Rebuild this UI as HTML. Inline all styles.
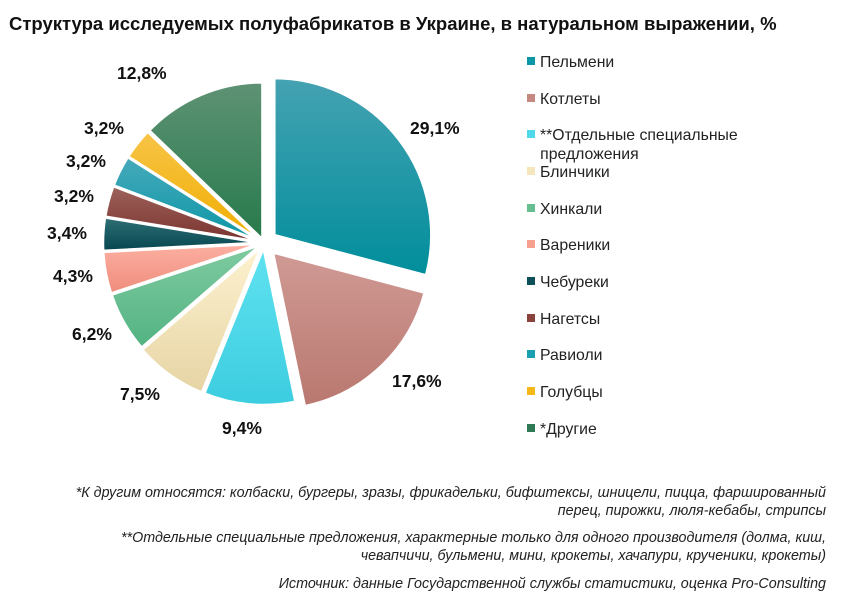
<!DOCTYPE html>
<html><head><meta charset="utf-8"><style>
body{margin:0;background:#fff;width:841px;height:610px;overflow:hidden;font-family:"Liberation Sans",sans-serif;}
.t{position:absolute;left:9px;top:13px;font-weight:bold;font-size:18.5px;color:#111;white-space:nowrap;}
.lg{position:absolute;left:527px;font-size:15.8px;color:#222;line-height:19px;white-space:nowrap;}
.lg i{display:inline-block;width:8px;height:8px;margin-right:5px;vertical-align:2px;}
.fn{position:absolute;right:15px;font-style:italic;font-size:14.3px;color:#222;text-align:right;line-height:18px;white-space:nowrap;}
</style></head><body>
<div class="t">Структура исследуемых полуфабрикатов в Украине, в натуральном выражении, %</div>
<svg id="s" width="841" height="610" style="position:absolute;left:0;top:0">
<defs id="d"></defs><g id="g"></g>
<g font-family="Liberation Sans" font-weight="bold" font-size="17.5" fill="#111">
<text x="410" y="134">29,1%</text><text x="392" y="387">17,6%</text><text x="222" y="434">9,4%</text>
<text x="120" y="400">7,5%</text><text x="72" y="340">6,2%</text><text x="53" y="282">4,3%</text>
<text x="47" y="239">3,4%</text><text x="54" y="202">3,2%</text><text x="66" y="167">3,2%</text>
<text x="84" y="134">3,2%</text><text x="117" y="79">12,8%</text></g>
</svg>
<div class="lg" style="top:53px"><i style="background:#0a98a6"></i>Пельмени</div>
<div class="lg" style="top:90px"><i style="background:#c58880"></i>Котлеты</div>
<div class="lg" style="top:126px"><i style="background:#4fd8ea"></i>**Отдельные специальные<br>&nbsp;&nbsp;&nbsp;предложения</div>
<div class="lg" style="top:163px"><i style="background:#f5e6bc"></i>Блинчики</div>
<div class="lg" style="top:200px"><i style="background:#66bd90"></i>Хинкали</div>
<div class="lg" style="top:236px"><i style="background:#f8a090"></i>Вареники</div>
<div class="lg" style="top:273px"><i style="background:#0d5058"></i>Чебуреки</div>
<div class="lg" style="top:310px"><i style="background:#8a423c"></i>Нагетсы</div>
<div class="lg" style="top:346px"><i style="background:#1a9fb0"></i>Равиоли</div>
<div class="lg" style="top:383px"><i style="background:#f4b818"></i>Голубцы</div>
<div class="lg" style="top:420px"><i style="background:#2f7a55"></i>*Другие</div>
<div class="fn" style="top:484px">*К другим относятся: колбаски, бургеры, зразы, фрикадельки, бифштексы, шницели, пицца, фаршированный<br>перец, пирожки, люля-кебабы, стрипсы</div>
<div class="fn" style="top:529px">**Отдельные специальные предложения, характерные только для одного производителя (долма, киш,<br>чевапчичи, бульмени, мини, крокеты, хачапури, крученики, крокеты)</div>
<div class="fn" style="top:575px">Источник: данные Государственной службы статистики, оценка Pro-Consulting</div>
<script>
var data=[[29.1,'#45a2b2','#008e9c',13],[17.6,'#d09a94','#b97870',13],[9.4,'#60e2f0','#3ccde0',5],[7.5,'#fdf2d0','#e6d4a4',5],[6.2,'#80cba2','#52b382',4],[4.3,'#fcb0a2','#ef8c7c',4],[3.4,'#2e6e74','#064650',4],[3.2,'#9e625c','#7a332e',4],[3.2,'#46aabb','#0c96a6',4],[3.2,'#f8c448','#f0ae00',4],[12.8,'#5e9274','#277a4c',4]];
var cx=264,cy=243,r=157,a=0,tot=99.9,d=document.getElementById('d'),g=document.getElementById('g'),h='',defs='';
data.forEach(function(s,i){
 var a1=a+s[0]/tot*2*Math.PI,m=(a+a1)/2,ox=cx+s[3]*Math.sin(m),oy=cy-s[3]*Math.cos(m);
 var x0=ox+r*Math.sin(a),y0=oy-r*Math.cos(a),x1=ox+r*Math.sin(a1),y1=oy-r*Math.cos(a1);
 defs+='<linearGradient id="G'+i+'" x1="0" y1="0" x2="0" y2="1"><stop offset="0" stop-color="'+s[1]+'"/><stop offset="1" stop-color="'+s[2]+'"/></linearGradient>';
 h+='<path d="M'+ox+','+oy+'L'+x0+','+y0+'A'+r+','+r+' 0 '+((a1-a)>Math.PI?1:0)+' 1 '+x1+','+y1+'Z" fill="url(#G'+i+')" stroke="#fff" stroke-width="2.5" stroke-linejoin="round"/>';
 a=a1;});
d.innerHTML=defs;g.innerHTML=h;
</script>
</body></html>
